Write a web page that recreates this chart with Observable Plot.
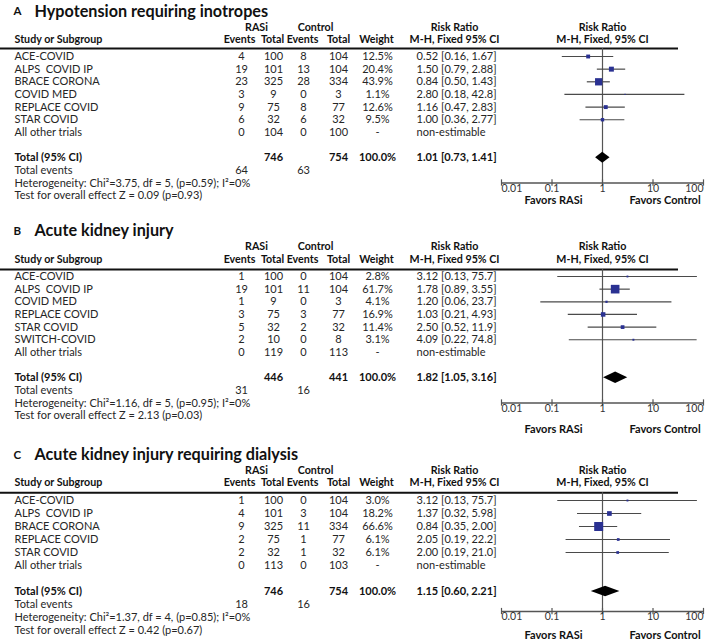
<!DOCTYPE html>
<html><head><meta charset="utf-8">
<script src="https://cdn.jsdelivr.net/npm/d3@7"></script>
<script src="https://cdn.jsdelivr.net/npm/@observablehq/plot@0.6"></script>
<style>
html,body{margin:0;padding:0;background:#fff;}
#chart{width:709px;}
#chart svg{display:block;}
</style></head><body><div id="chart"></div>
<script>
// ---------- Panel A: Hypotension requiring inotropes ----------
const studiesA = ["ACE-COVID","ALPS\u00a0 COVID IP","BRACE CORONA","COVID MED","REPLACE COVID","STAR COVID","All other trials"];
const rasiEventsA = [4,19,23,3,9,6,0];
const rasiTotalA  = [100,101,325,9,75,32,104];
const ctrlEventsA = [8,13,28,0,8,6,0];
const ctrlTotalA  = [104,104,334,3,77,32,100];
const weightA = [12.5,20.4,43.9,1.1,12.6,9.5,null];
const rrA = [0.52,1.50,0.84,2.80,1.16,1.00,null];
const loA = [0.16,0.79,0.50,0.18,0.47,0.36,null];
const hiA = [1.67,2.88,1.43,42.8,2.83,2.77,null];
const totalsA = [746,754,64,63];          // RASi total, control total, RASi events, control events
const pooledA = [1.01,0.73,1.41];         // RR, lower, upper
const hetA = "Chi²=3.75, df = 5, (p=0.59); I²=0%";
const zA = "Z = 0.09 (p=0.93)";

// ---------- Panel B: Acute kidney injury ----------
const studiesB = ["ACE-COVID","ALPS\u00a0 COVID IP","COVID MED","REPLACE COVID","STAR COVID","SWITCH-COVID","All other trials"];
const rasiEventsB = [1,19,1,3,5,2,0];
const rasiTotalB  = [100,101,9,75,32,10,119];
const ctrlEventsB = [0,11,0,3,2,0,0];
const ctrlTotalB  = [104,104,3,77,32,8,113];
const weightB = [2.8,61.7,4.1,16.9,11.4,3.1,null];
const rrB = [3.12,1.78,1.20,1.03,2.50,4.09,null];
const loB = [0.13,0.89,0.06,0.21,0.52,0.22,null];
const hiB = [75.7,3.55,23.7,4.93,11.9,74.8,null];
const totalsB = [446,441,31,16];
const pooledB = [1.82,1.05,3.16];
const hetB = "Chi²=1.16, df = 5, (p=0.95); I²=0%";
const zB = "Z = 2.13 (p=0.03)";

// ---------- Panel C: Acute kidney injury requiring dialysis ----------
const studiesC = ["ACE-COVID","ALPS\u00a0 COVID IP","BRACE CORONA","REPLACE COVID","STAR COVID","All other trials"];
const rasiEventsC = [1,4,9,2,2,0];
const rasiTotalC  = [100,101,325,75,32,113];
const ctrlEventsC = [0,3,11,1,1,0];
const ctrlTotalC  = [104,104,334,77,32,103];
const weightC = [3.0,18.2,66.6,6.1,6.1,null];
const rrC = [3.12,1.37,0.84,2.05,2.00,null];
const loC = [0.13,0.32,0.35,0.19,0.19,null];
const hiC = [75.7,5.98,2.00,22.2,21.0,null];
const totalsC = [746,754,18,16];
const pooledC = [1.15,0.60,2.21];
const hetC = "Chi²=1.37, df = 4, (p=0.85); I²=0%";
const zC = "Z = 0.42 (p=0.67)";

const axisTicks = [0.01,0.1,1,10,100];

// ---------- drawing ----------
const FONT = "Lato, 'Open Sans', sans-serif";
const TXT = "#262626";
const col = {study:14, re:241, rt:273, ce:303, ct:338, w:377, rr:416, rasi:256, ctrl:315, rrh:454};
const fmtCI = v => v >= 10 ? v.toFixed(1) : v.toFixed(2);
const fmtRR = (r,l,h) => `${fmtCI(r)} [${fmtCI(l)}, ${fmtCI(h)}]`;

function panel(cfg) {
  const {letter, title, studies, re, rt, ce, ct, w, rr, lo, hi, totals, pooled, het, z, L} = cfg;
  const n = studies.length;
  const rows = studies.map((s, i) => ({i, s, re: re[i], rt: rt[i], ce: ce[i], ct: ct[i], w: w[i], rr: rr[i], lo: lo[i], hi: hi[i]}));
  const est = rows.filter(d => d.rr != null);
  const T = n + 1;
  const FS = 11;
  const HS = 10.7;
  const t = (data, o) => Plot.text(data, {frameAnchor: "left", fontSize: FS, fill: TXT, ...o});
  const hb = {fontWeight: "bold", fill: "#111"};
  const diamond = [
    {x: pooled[1], y1: T, y2: T},
    {x: pooled[0], y1: T - L.dh, y2: T + L.dh},
    {x: pooled[2], y1: T, y2: T}
  ];
  return Plot.plot({
    width: 709, height: L.height,
    marginLeft: 0, marginRight: 31, marginTop: 0, marginBottom: 0,
    style: {fontFamily: FONT, background: "#fff", overflow: "visible"},
    x: {type: "log", domain: [0.01, 100], range: [501, 703], axis: null},
    y: {domain: [0, 1], range: [L.y0, L.y0 + L.step], axis: null},
    r: {type: "sqrt", domain: [0, 100], range: [0, 6.2]},
    marks: [
      // title
      t([letter], {y: L.title, dx: 13, fontSize: 11.5, ...hb}),
      t([title], {y: L.title, dx: 34, fontSize: 16.2, ...hb}),
      // headers
      t(["RASi"], {y: L.h1, dx: col.rasi, textAnchor: "middle", fontSize: HS, ...hb}),
      t(["Control"], {y: L.h1, dx: col.ctrl, textAnchor: "middle", fontSize: HS, ...hb}),
      t(["Risk Ratio"], {y: L.h1, dx: col.rrh, textAnchor: "middle", fontSize: HS, ...hb}),
      Plot.text(["Risk Ratio"], {x: 1, y: L.h1, fontSize: HS, textAnchor: "middle", ...hb}),
      t(["Study or Subgroup"], {y: L.h2, dx: col.study, textAnchor: "start", fontSize: HS, ...hb}),
      t(["Events"], {y: L.h2, dx: col.re - 2, textAnchor: "middle", fontSize: HS, ...hb}),
      t(["Total"], {y: L.h2, dx: col.rt - 1, textAnchor: "middle", fontSize: HS, ...hb}),
      t(["Events"], {y: L.h2, dx: col.ce - 1, textAnchor: "middle", fontSize: HS, ...hb}),
      t(["Total"], {y: L.h2, dx: col.ct, textAnchor: "middle", fontSize: HS, ...hb}),
      t(["Weight"], {y: L.h2, dx: col.w - 1, textAnchor: "middle", fontSize: HS, ...hb}),
      t(["M-H, Fixed 95% CI"], {y: L.h2, dx: col.rrh, textAnchor: "middle", fontSize: HS, ...hb}),
      Plot.text(["M-H, Fixed, 95% CI"], {x: 1, y: L.h2, fontSize: HS, textAnchor: "middle", ...hb}),
      Plot.ruleY([L.line], {stroke: "#111", strokeWidth: 2}),
      // study rows
      t(rows, {y: "i", text: "s", dx: col.study, textAnchor: "start"}),
      t(rows, {y: "i", text: "re", dx: col.re, textAnchor: "middle"}),
      t(rows, {y: "i", text: "rt", dx: col.rt, textAnchor: "middle"}),
      t(rows, {y: "i", text: "ce", dx: col.ce, textAnchor: "middle"}),
      t(rows, {y: "i", text: "ct", dx: col.ct, textAnchor: "middle"}),
      t(rows, {y: "i", text: d => d.w == null ? "-" : d.w.toFixed(1) + "%", dx: col.w, textAnchor: "middle"}),
      t(rows, {y: "i", text: d => d.rr == null ? "non-estimable" : fmtRR(d.rr, d.lo, d.hi), dx: col.rr, textAnchor: "start"}),
      // totals
      t(["Total (95% CI)"], {y: T, dx: col.study, textAnchor: "start", ...hb}),
      t([totals[0]], {y: T, dx: col.rt, textAnchor: "middle", ...hb}),
      t([totals[1]], {y: T, dx: col.ct, textAnchor: "middle", ...hb}),
      t(["100.0%"], {y: T, dx: col.w, textAnchor: "middle", ...hb}),
      t([fmtRR(...pooled)], {y: T, dx: col.rr, textAnchor: "start", ...hb}),
      t(["Total events"], {y: T + 1, dx: col.study, textAnchor: "start"}),
      t([totals[2]], {y: T + 1, dx: col.re, textAnchor: "middle"}),
      t([totals[3]], {y: T + 1, dx: col.ce, textAnchor: "middle"}),
      t(["Heterogeneity: " + het], {y: T + 2, dx: col.study, textAnchor: "start"}),
      t(["Test for overall effect " + z], {y: T + 3, dx: col.study, textAnchor: "start"}),
      // forest plot
      Plot.ruleX([1], {y1: L.line, y2: L.axis, stroke: "#555", strokeWidth: 1.2}),
      Plot.ruleY(est, {y: "i", x1: "lo", x2: "hi", stroke: "#4a4a4a", strokeWidth: 1.2}),
      Plot.dot(est, {x: "rr", y: "i", r: "w", symbol: "square", fill: "#2a3192", stroke: "none"}),
      Plot.areaY(diamond, {x: "x", y1: "y1", y2: "y2", fill: "#000"}),
      // axis
      Plot.ruleY([L.axis], {x1: 0.01, x2: 100, stroke: "#555", strokeWidth: 1.3}),
      Plot.ruleX(axisTicks, {x: d => d, y1: L.axis - L.tk, y2: L.axis + L.tk, stroke: "#555", strokeWidth: 1.2}),
      Plot.text(axisTicks.slice(0, 1), {x: d => d, y: L.lab, text: d => String(d), textAnchor: "start", fontSize: 10.5, fill: "#333"}),
      Plot.text(axisTicks.slice(1, 4), {x: d => d, y: L.lab, text: d => String(d), textAnchor: "middle", fontSize: 10.5, fill: "#333"}),
      Plot.text(axisTicks.slice(4), {x: d => d, y: L.lab, text: d => String(d), textAnchor: "end", fontSize: 10.5, fill: "#333"}),
      Plot.text(["Favors RASi"], {x: 1, y: L.fav, dx: -20, textAnchor: "end", fontSize: FS, ...hb}),
      Plot.text(["Favors Control"], {x: 1, y: L.fav, dx: 27, textAnchor: "start", fontSize: FS, ...hb})
    ]
  });
}

const layoutA = {height: 220, y0: 56, step: 12.65, title: -3.56, h1: -2.3, h2: -1.32, line: -0.63, axis: 10.0, tk: 0.25, lab: 10.42, fav: 11.35, dh: 0.43};
const layoutB = {height: 223, y0: 56, step: 12.65, title: -3.6, h1: -2.35, h2: -1.32, line: -0.55, axis: 10.0, tk: 0.25, lab: 10.42, fav: 12.1, dh: 0.45};
const layoutC = {height: 199, y0: 57, step: 13.0, title: -3.5, h1: -2.28, h2: -1.36, line: -0.6, axis: 8.54, tk: 0.24, lab: 8.95, fav: 10.4, dh: 0.4};

const root = document.getElementById("chart");
root.append(panel({letter: "A", title: "Hypotension requiring inotropes", studies: studiesA, re: rasiEventsA, rt: rasiTotalA, ce: ctrlEventsA, ct: ctrlTotalA, w: weightA, rr: rrA, lo: loA, hi: hiA, totals: totalsA, pooled: pooledA, het: hetA, z: zA, L: layoutA}));
root.append(panel({letter: "B", title: "Acute kidney injury", studies: studiesB, re: rasiEventsB, rt: rasiTotalB, ce: ctrlEventsB, ct: ctrlTotalB, w: weightB, rr: rrB, lo: loB, hi: hiB, totals: totalsB, pooled: pooledB, het: hetB, z: zB, L: layoutB}));
root.append(panel({letter: "C", title: "Acute kidney injury requiring dialysis", studies: studiesC, re: rasiEventsC, rt: rasiTotalC, ce: ctrlEventsC, ct: ctrlTotalC, w: weightC, rr: rrC, lo: loC, hi: hiC, totals: totalsC, pooled: pooledC, het: hetC, z: zC, L: layoutC}));
</script></body></html>
